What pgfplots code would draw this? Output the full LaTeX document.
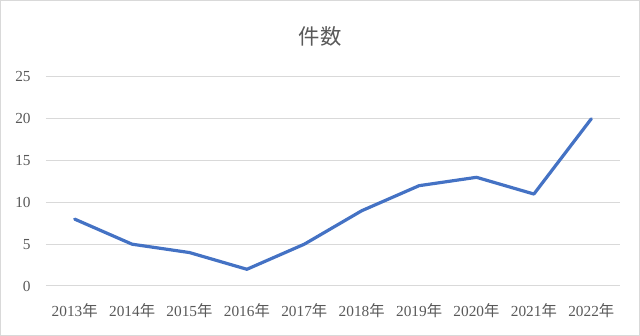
\documentclass[border=0pt]{standalone}
\usepackage{pgfplots}
\pgfplotsset{compat=1.18}
\usepackage{fontspec}
\setmainfont{Liberation Serif}
\newfontfamily\cjk{Noto Sans CJK JP}
\definecolor{gridgray}{HTML}{D9D9D9}
\definecolor{txtgray}{HTML}{595959}
\definecolor{lineblue}{HTML}{4472C4}
\begin{document}
\begin{tikzpicture}
\draw[gridgray, line width=0.75pt] (0.375pt,0.375pt) rectangle (479.625pt,251.625pt);
\useasboundingbox (0,0) rectangle (480pt,252pt);
\node[txtgray, font=\cjk\fontsize{16}{18}\selectfont] at (240pt,224.5pt) {件数};
\begin{axis}[
  at={(34.5pt,37.5pt)}, anchor=south west,
  scale only axis, width=430.5pt, height=156.75pt,
  xmin=-0.5, xmax=9.5, ymin=0, ymax=25,
  ytick={0,5,...,25},
  xtick={0,...,9},
  xticklabels={2013{\cjk 年},2014{\cjk 年},2015{\cjk 年},2016{\cjk 年},2017{\cjk 年},2018{\cjk 年},2019{\cjk 年},2020{\cjk 年},2021{\cjk 年},2022{\cjk 年}},
  ymajorgrids, grid style={gridgray, line width=0.75pt},
  axis x line*=bottom, axis y line*=left,
  x axis line style={gridgray, line width=0.75pt, -},
  y axis line style={draw=none, -},
  major tick length=0pt,
  tick style={draw=none},
  ticklabel style={txtgray, font=\fontsize{11.5}{13}\selectfont},
  /pgf/number format/assume math mode=true,
  yticklabel style={xshift=-8pt},
  xticklabel style={yshift=-9.5pt},
  clip=false,
]
\addplot[lineblue, line width=2.4pt, line join=round, line cap=round] coordinates {
(0,8) (1,5) (2,4) (3,2) (4,5) (5,9) (6,12) (7,13) (8,11) (9,20)
};
\end{axis}
\end{tikzpicture}
\end{document}
